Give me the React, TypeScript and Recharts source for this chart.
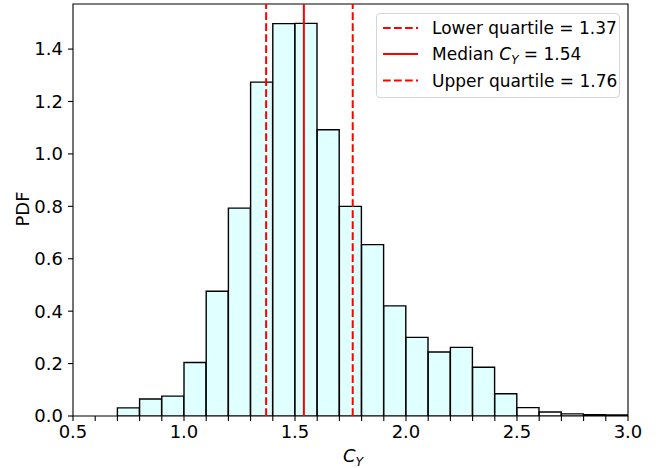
import { ComposedChart, Bar, Cell, XAxis, YAxis, ReferenceLine, ReferenceArea } from "recharts";

// histogram bins (centre of each 0.1-wide bin) and density values
const binCenters = [0.75, 0.85, 0.95, 1.05, 1.15, 1.25, 1.35, 1.45, 1.55, 1.65, 1.75, 1.85, 1.95, 2.05, 2.15, 2.25, 2.35, 2.45, 2.55, 2.65, 2.75, 2.85, 2.95];
const density = [0.031, 0.065, 0.076, 0.204, 0.476, 0.793, 1.274, 1.497, 1.498, 1.092, 0.8, 0.654, 0.42, 0.3, 0.244, 0.262, 0.186, 0.085, 0.032, 0.015, 0.008, 0.005, 0.004];

const xTicks = [0.5, 0.6, 0.7, 0.8, 0.9, 1.0, 1.1, 1.2, 1.3, 1.4, 1.5, 1.6, 1.7, 1.8, 1.9, 2.0, 2.1, 2.2, 2.3, 2.4, 2.5, 2.6, 2.7, 2.8, 2.9, 3.0];
const xLabelTicks = [0.5, 1.0, 1.5, 2.0, 2.5, 3.0];
const yTicks = [0, 0.2, 0.4, 0.6, 0.8, 1.0, 1.2, 1.4];

const lowerQuartile = 1.37;
const median = 1.54;
const upperQuartile = 1.76;

const data = binCenters.map((x, i) => ({ x, pdf: density[i] }));

const FONT = "DejaVu Sans, sans-serif";
const DASH = "7.7 3.3";
const TICK_FS = 18;
const LEG_FS = 17;

function fmtX(v: number) {
  return xLabelTicks.some((t) => Math.abs(t - v) < 1e-6) ? v.toFixed(1) : "";
}

export default function App() {
  return (
    <div style={{ position: "absolute", left: 0, top: 0, width: 665, height: 468, background: "#fff", fontFamily: FONT }}>
      <ComposedChart
        width={665}
        height={468}
        data={data}
        margin={{ top: 4, right: 37, bottom: 0, left: 0 }}
        barCategoryGap={0}
        barGap={0}
      >
        <XAxis
          dataKey="x"
          type="number"
          domain={[0.5, 3.0]}
          ticks={xTicks}
          tickFormatter={fmtX}
          interval={0}
          allowDataOverflow
          height={52}
          axisLine={false}
          tickLine={{ stroke: "#000", strokeWidth: 1.1 }}
          tickSize={5}
          tickMargin={4}
          tick={{ fill: "#000", fontSize: TICK_FS, fontFamily: FONT }}
          label={{
            content: () => (
              <text x={343} y={462} fontFamily={FONT} fontSize={TICK_FS} fill="#000">
                <tspan fontStyle="italic">C</tspan>
                <tspan fontStyle="italic" fontSize={12.5} dy={4}>Y</tspan>
              </text>
            ),
          }}
        />
        <YAxis
          type="number"
          domain={[0, 1.572]}
          ticks={yTicks}
          tickFormatter={(v: number) => v.toFixed(1)}
          interval={0}
          allowDataOverflow
          width={73}
          axisLine={false}
          tickLine={{ stroke: "#000", strokeWidth: 1.1 }}
          tickSize={5}
          tickMargin={5}
          tick={{ fill: "#000", fontSize: TICK_FS, fontFamily: FONT }}
          label={{
            content: () => (
              <text x={29} y={209} textAnchor="middle" fontFamily={FONT} fontSize={TICK_FS} fill="#000" transform="rotate(-90 29 209)">
                PDF
              </text>
            ),
          }}
        />
        <Bar dataKey="pdf" stroke="#000" strokeWidth={1.4} isAnimationActive={false}>
          {data.map((d, i) => (
            <Cell key={`c-${i}`} fill={d.x < 2.5 ? "#e0ffff" : "#ffffff"} />
          ))}
        </Bar>
        <ReferenceLine x={lowerQuartile} stroke="#ff0000" strokeWidth={2} strokeDasharray={DASH} />
        <ReferenceLine x={median} stroke="#ff0000" strokeWidth={2} />
        <ReferenceLine x={upperQuartile} stroke="#ff0000" strokeWidth={2} strokeDasharray={DASH} />
        <ReferenceArea x1={0.5} x2={3.0} y1={0} y2={1.572} fill="none" stroke="#000" strokeWidth={1.1} ifOverflow="visible" />
      </ComposedChart>
      <div
        style={{
          position: "absolute",
          left: 376,
          top: 13,
          width: 242,
          height: 83,
          border: "1px solid #d6d6d6",
          borderRadius: 4,
          background: "rgba(255,255,255,0.8)",
        }}
      >
        <svg width={242} height={83} style={{ position: "absolute", left: 0, top: 0 }}>
          <line x1={6} x2={41} y1={14} y2={14} stroke="#ff0000" strokeWidth={2} strokeDasharray={DASH} />
          <line x1={6} x2={41} y1={40} y2={40} stroke="#ff0000" strokeWidth={2} />
          <line x1={6} x2={41} y1={66.5} y2={66.5} stroke="#ff0000" strokeWidth={2} strokeDasharray={DASH} />
          <text x={55} y={20} fontFamily={FONT} fontSize={LEG_FS} fill="#000">Lower quartile = 1.37</text>
          <text x={55} y={46} fontFamily={FONT} fontSize={LEG_FS} fill="#000">
            Median <tspan fontStyle="italic">C</tspan>
            <tspan fontStyle="italic" fontSize={12} dy={3.5}>Y</tspan>
            <tspan dy={-3.5}> = 1.54</tspan>
          </text>
          <text x={55} y={72.5} fontFamily={FONT} fontSize={LEG_FS} fill="#000">Upper quartile = 1.76</text>
        </svg>
      </div>
    </div>
  );
}
